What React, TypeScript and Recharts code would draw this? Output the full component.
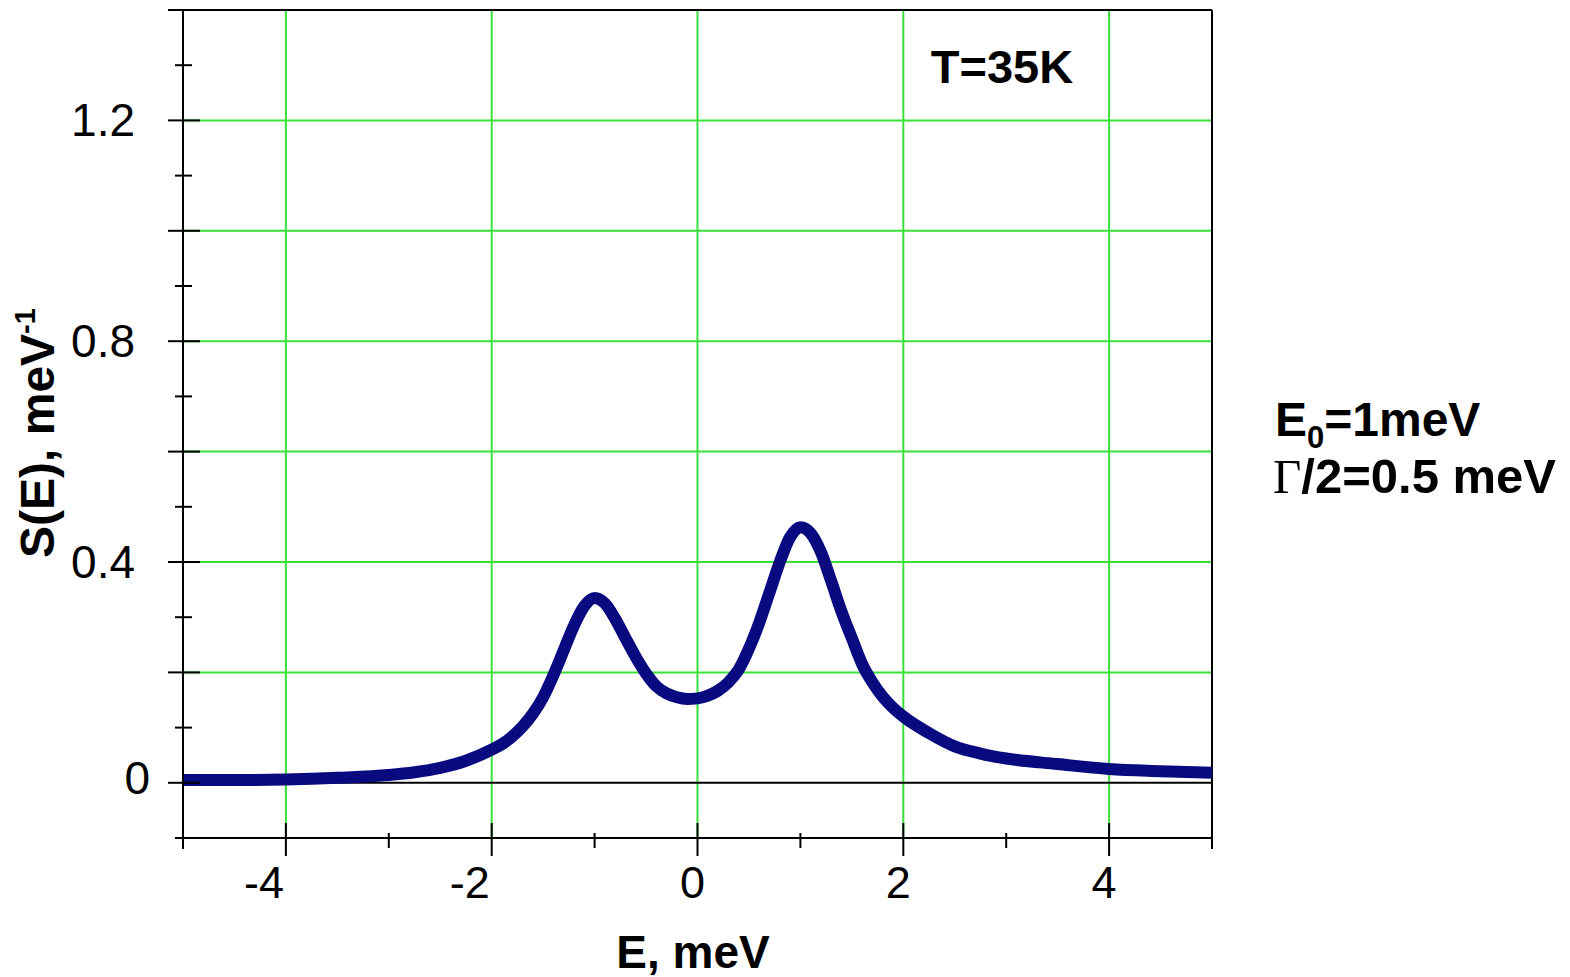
import React from 'react';
import { LineChart, Line, XAxis, YAxis, ReferenceLine } from 'recharts';

// energy (meV) and S(E) (1/meV)
const energies = [
  -5, -4.5, -4, -3.5, -3, -2.75, -2.5, -2.25, -2, -1.9, -1.8, -1.7, -1.6, -1.5, -1.4, -1.3, -1.2, -1.1,
  -1, -0.9, -0.8, -0.7, -0.6, -0.5, -0.4, -0.3, -0.2, -0.1, 0, 0.1, 0.2, 0.3, 0.4, 0.5, 0.6, 0.7, 0.8,
  0.9, 1, 1.1, 1.2, 1.3, 1.4, 1.5, 1.6, 1.7, 1.8, 1.9, 2, 2.25, 2.5, 2.75, 3, 3.5, 4, 4.5, 5,
];
const sValues = [
  0.005, 0.005, 0.006, 0.009, 0.014, 0.019, 0.027, 0.04, 0.06, 0.07, 0.084, 0.102, 0.125, 0.155, 0.195,
  0.24, 0.285, 0.32, 0.335, 0.325, 0.297, 0.262, 0.228, 0.198, 0.175, 0.162, 0.155, 0.152, 0.153, 0.158,
  0.167, 0.182, 0.205, 0.243, 0.29, 0.345, 0.4, 0.445, 0.463, 0.452, 0.418, 0.365, 0.31, 0.262, 0.215,
  0.182, 0.156, 0.136, 0.12, 0.09, 0.066, 0.053, 0.044, 0.034, 0.025, 0.021, 0.018,
];

const xTicks = [-5, -4, -3, -2, -1, 0, 1, 2, 3, 4, 5];
const yTicks = [-0.1, 0, 0.1, 0.2, 0.3, 0.4, 0.5, 0.6, 0.7, 0.8, 0.9, 1.0, 1.1, 1.2, 1.3, 1.4];
const xLabels = [-4, -2, 0, 2, 4];
const yLabels = [0, 0.4, 0.8, 1.2];
const gridX = [-4, -2, 0, 2, 4];
const gridY = [0.2, 0.4, 0.6, 0.8, 1.0, 1.2];

const data = energies.map((e, i) => ({ e, s: sValues[i] }));

const GREEN = '#38e038';
const NAVY = '#0a0a80';
const SANS = '"Liberation Sans", Arial, sans-serif';

const XTick = (props: any) => {
  const { x, y, payload } = props;
  const v = payload.value;
  const even = xLabels.includes(v);
  return (
    <g>
      {even ? (
        <line x1={x} x2={x} y1={y - 15} y2={y + 18} stroke="#000" strokeWidth={2} />
      ) : Math.abs(v) === 5 ? (
        <line x1={x} x2={x} y1={y} y2={y + 11} stroke="#000" strokeWidth={2} />
      ) : (
        <line x1={x} x2={x} y1={y - 5} y2={y + 10} stroke="#000" strokeWidth={2} />
      )}
      {even && (
        <text x={x + (v < 0 ? -22 : -5)} y={y + 60} textAnchor="middle" fontSize={45} fontFamily={SANS} fill="#000">
          {v}
        </text>
      )}
    </g>
  );
};

const YTick = (props: any) => {
  const { x, y, payload } = props;
  const v = payload.value;
  const k = Math.round(v * 10);
  const major = k >= 0 && k % 2 === 0;
  const labelled = yLabels.some((l) => Math.round(l * 10) === k);
  return (
    <g>
      {major ? (
        <line x1={x - 15} x2={x + 17} y1={y} y2={y} stroke="#000" strokeWidth={2} />
      ) : (
        <line x1={x - 8} x2={x + 9} y1={y} y2={y} stroke="#000" strokeWidth={2} />
      )}
      {labelled && (
        <text
          x={k === 0 ? x - 33 : x - 48}
          y={k === 0 ? y + 11 : y + 16}
          textAnchor="end"
          fontSize={46}
          fontFamily={SANS}
          fill="#000"
        >
          {k === 0 ? '0' : v.toFixed(1)}
        </text>
      )}
    </g>
  );
};

export default function App() {
  return (
    <div style={{ position: 'absolute', left: 0, top: 0, width: 1570, height: 977, background: '#fff' }}>
      <LineChart width={1570} height={977} data={data} margin={{ top: 10, right: 358, bottom: 79, left: 83 }}>
        <XAxis
          type="number"
          dataKey="e"
          domain={[-5, 5]}
          ticks={xTicks}
          interval={0}
          allowDataOverflow
          height={60}
          tickSize={0}
          tickMargin={0}
          tickLine={false}
          axisLine={{ stroke: '#000', strokeWidth: 2 }}
          tick={<XTick />}
        />
        <YAxis
          type="number"
          domain={[-0.1, 1.4]}
          ticks={yTicks}
          interval={0}
          allowDataOverflow
          width={100}
          tickSize={0}
          tickMargin={0}
          tickLine={false}
          axisLine={{ stroke: '#000', strokeWidth: 2 }}
          tick={<YTick />}
        />
        {gridX.map((g) => (
          <ReferenceLine key={'gx' + g} x={g} stroke={GREEN} strokeWidth={2} />
        ))}
        {gridY.map((g) => (
          <ReferenceLine key={'gy' + g} y={g} stroke={GREEN} strokeWidth={2} />
        ))}
        <ReferenceLine y={0} stroke="#000" strokeWidth={2} />
        <ReferenceLine y={1.4} stroke="#000" strokeWidth={2} />
        <ReferenceLine x={5} stroke="#000" strokeWidth={2} />
        <Line
          type="monotone"
          dataKey="s"
          stroke={NAVY}
          strokeWidth={12}
          strokeLinejoin="round"
          dot={false}
          activeDot={false}
          isAnimationActive={false}
        />
      </LineChart>
      <svg
        width={1570}
        height={977}
        style={{ position: 'absolute', left: 0, top: 0, pointerEvents: 'none' }}
      >
        <text x={1002} y={83} textAnchor="middle" fontSize={47} fontWeight="bold" fontFamily={SANS}>
          T=35K
        </text>
        <text x={1275} y={436} fontSize={48} fontWeight="bold" fontFamily={SANS}>
          E<tspan fontSize={31} dy={12}>0</tspan>
          <tspan dy={-12}>=1meV</tspan>
        </text>
        <text x={1273} y={493} fontSize={49} fontWeight="bold" fontFamily={SANS}>
          <tspan fontFamily='"Liberation Serif", "Times New Roman", serif' fontWeight="normal">Γ</tspan>
          /2=0.5 meV
        </text>
        <text x={693} y={968} textAnchor="middle" fontSize={46} fontWeight="bold" fontFamily={SANS}>
          E, meV
        </text>
        <text
          x={54}
          y={433}
          textAnchor="middle"
          fontSize={48}
          fontWeight="bold"
          fontFamily={SANS}
          transform="rotate(-90 54 433)"
        >
          S(E), meV<tspan fontSize={29} dy={-19}>-1</tspan>
        </text>
      </svg>
    </div>
  );
}
